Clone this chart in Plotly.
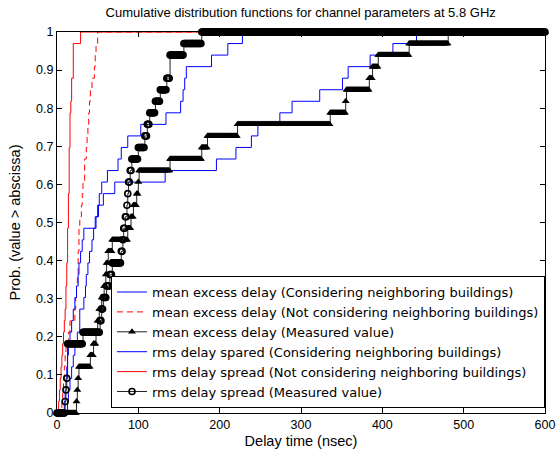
import numpy as np
import plotly.graph_objects as go

# ---- data: delay values (nsec), 33 samples per series ----
N_SAMPLES = 33
mean_consider = [13, 14, 16, 18, 20, 22, 25, 28, 28, 33, 35, 36, 38, 40, 43, 45, 47, 51, 57, 71,
                 133, 196, 220, 239, 247, 274, 289, 323, 351, 358, 385, 413, 442]
mean_not_consider = [6, 7, 8, 9, 10, 11, 14, 16, 22, 23, 24, 25, 26, 26, 27, 27, 28, 30, 31, 32,
                     34, 34, 36, 37, 38, 39, 40, 41, 43, 46, 47, 48, 50]
mean_measured = [24, 25, 26, 27, 41, 45, 48, 50, 52, 55, 58, 60, 61, 63, 68, 87, 91, 94, 98, 100,
                 101, 139, 178, 185, 222, 336, 355, 356, 384, 388, 395, 433, 481]
rms_consider = [9, 10, 11, 12, 13, 14, 16, 18, 20, 22, 24, 26, 27, 29, 31, 33, 48, 50, 52, 55,
                62, 75, 79, 87, 103, 134, 152, 155, 157, 159, 190, 210, 228]
rms_not_consider = [2, 3, 4, 5, 6, 7, 8, 9, 10, 11, 11, 12, 12, 13, 13, 13, 14, 14, 14, 15,
                    15, 15, 15, 16, 16, 16, 17, 18, 18, 20, 20, 20, 29]
rms_measured = [10, 11, 12, 13, 13, 13, 32, 53, 55, 57, 61, 65, 68, 79, 81, 82, 84, 86, 87, 88,
                90, 92, 100, 108, 111, 114, 121, 127, 135, 139, 139, 156, 178]

names = [
    "mean excess delay (Considering neighboring buildings)",
    "mean excess delay (Not considering neighboring buildings)",
    "mean excess delay (Measured value)",
    "rms delay spared (Considering neighboring buildings)",
    "rms delay spread (Not considering neighboring buildings)",
    "rms delay spread (Measured value)",
]
X_MAX = 600
x_ticks = [0, 100, 200, 300, 400, 500, 600]
y_ticks = [0, 0.1, 0.2, 0.3, 0.4, 0.5, 0.6, 0.7, 0.8, 0.9, 1]
y_tick_text = ["0", "0.1", "0.2", "0.3", "0.4", "0.5", "0.6", "0.7", "0.8", "0.9", "1"]


def ecdf_steps(vals):
    v = sorted(vals)
    xs = [0] + v + [X_MAX]
    ys = [0] + [(i + 1) / N_SAMPLES for i in range(len(v))] + [1]
    return xs, ys


def ecdf_grid(vals):
    grid = np.arange(0, X_MAX + 1, 1)
    v = np.sort(np.array(vals))
    return grid, np.searchsorted(v, grid, side="right") / N_SAMPLES


fig = go.Figure()


def add_model(vals, name, color, dash="solid"):
    xs, ys = ecdf_steps(vals)
    fig.add_trace(go.Scatter(x=xs, y=ys, mode="lines", name=name, line_shape="hv",
                             line=dict(color=color, width=1, dash=dash), cliponaxis=False))


def add_measured(vals, name, symbol):
    gx, gy = ecdf_grid(vals)
    if symbol == "triangle-up":
        marker = dict(symbol="triangle-up", size=7, color="black")
    else:
        marker = dict(symbol="circle-open", size=6, color="black", line=dict(color="black", width=1.6))
    fig.add_trace(go.Scatter(x=gx, y=gy, mode="lines+markers", name=name, line_shape="hv",
                             line=dict(color="#222222", width=1), marker=marker, cliponaxis=False))


add_model(mean_consider, names[0], "#0000FF")
add_model(mean_not_consider, names[1], "#FF0000", dash="6px,4px")
add_measured(mean_measured, names[2], "triangle-up")
add_model(rms_consider, names[3], "#0000FF")
add_model(rms_not_consider, names[4], "#FF0000")
add_measured(rms_measured, names[5], "circle")

FONT = "Arial, Liberation Sans, sans-serif"
axis_common = dict(showline=True, linecolor="black", linewidth=1, mirror="ticks", ticks="inside",
                   ticklen=5, tickcolor="black", showgrid=False, zeroline=False, automargin=False,
                   tickfont=dict(size=12.5, color="black", family=FONT))

fig.update_layout(
    width=560, height=459,
    margin=dict(l=57, r=15, t=32, b=46),
    paper_bgcolor="white", plot_bgcolor="white",
    font=dict(family=FONT, size=12, color="black"),
    title=dict(text="Cumulative distribution functions for channel parameters at 5.8 GHz",
               x=0.537, xanchor="center", y=0.973, yanchor="middle",
               font=dict(size=13, color="black", family=FONT)),
    xaxis=dict(range=[0, X_MAX], tickvals=x_ticks,
               title=dict(text="Delay time (nsec)", standoff=4, font=dict(size=14.5, family=FONT)),
               **axis_common),
    yaxis=dict(range=[0, 1], tickvals=y_ticks, ticktext=y_tick_text,
               title=dict(text="Prob. (value > abscissa)", standoff=12, font=dict(size=14.5, family=FONT)),
               **axis_common),
    legend=dict(x=1, xanchor="right", y=0.013, yanchor="bottom", bgcolor="white",
                bordercolor="black", borderwidth=1,
                font=dict(size=13, color="black", family="DejaVu Sans, sans-serif"),
                tracegroupgap=0, itemwidth=30),
    showlegend=True,
)

fig.write_html("out.html", config={"displayModeBar": False},
               post_script="document.body.style.margin='0px';")
